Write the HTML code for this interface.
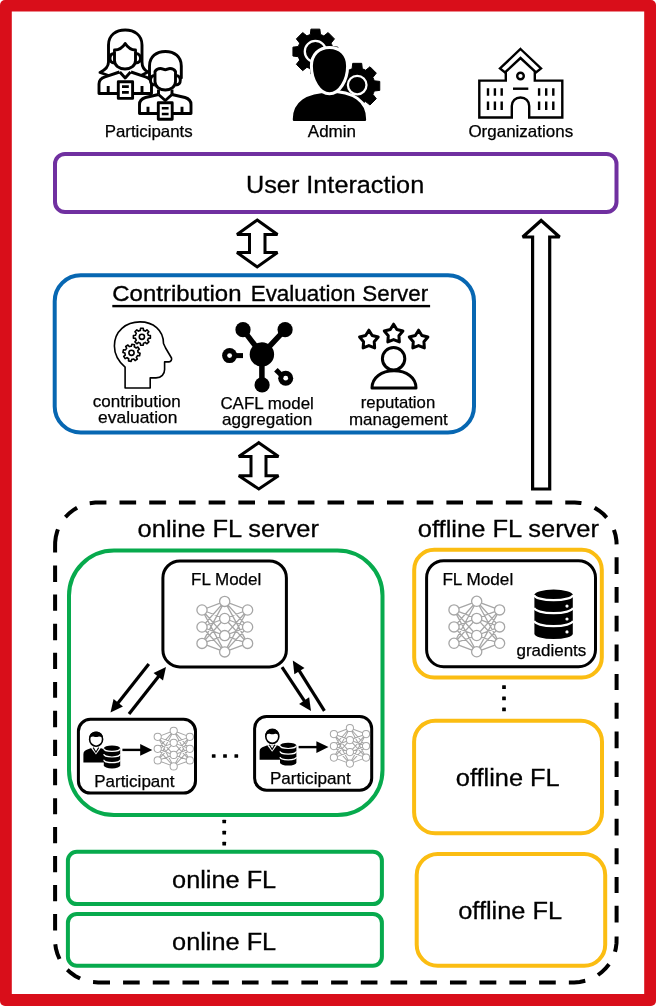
<!DOCTYPE html>
<html>
<head>
<meta charset="utf-8">
<style>
html,body{margin:0;padding:0;background:#fff;width:656px;height:1006px;overflow:hidden;}
svg{display:block;}
text{font-family:"Liberation Sans",sans-serif;fill:#000;stroke:#000;stroke-width:0.25px;}
text.b{stroke:#000;stroke-width:0.3px;}
text.t{stroke:#000;stroke-width:0.35px;}
svg{will-change:transform;}
</style>
</head>
<body>
<svg width="656" height="1006" viewBox="0 0 656 1006">
<rect x="0" y="0" width="656" height="1006" rx="5" fill="#D90E1A"/>
<rect x="11.8" y="11.5" width="632.4" height="982.5" fill="#fff"/>
<g fill="#fff" stroke="#000" stroke-width="2.9" stroke-linejoin="round"><path d="M108.5 62V45C108.5 35 116 30 125.2 30C134.4 30 142 35 142 45V62C142 67 145 70.5 148 72L140 76H110L100 72.5C105 70 108.5 67 108.5 62Z"/><path d="M99 93.5V84C99 80 101 78 105 76.8L119.5 72H131L145.5 76.8C149.5 78 151.5 80 151.5 84V93.5Z" stroke="none"/><path d="M119.5 72L105 76.8C101 78 99 80 99 84V93.5H151.5V84C151.5 80 149.5 78 145.5 76.8L131 72" fill="none"/><path d="M108.2 93.5V86M142 93.5V86" fill="none"/><path d="M119.8 72L125.2 78L130.6 72" fill="none"/><path d="M114.5 53.5C111 53.5 110 56 110 58.3C110 60.8 111 63 114.5 63"/><path d="M135.5 53.5C139 53.5 140.5 56 140.5 58.3C140.5 60.8 139 63 135.5 63"/><path d="M114.5 50V60.5C114.5 65.5 119 69 125 69C131 69 135.5 65.5 135.5 60.5V50C132 50 128 48 125.2 43.5C122.5 48 118.5 50 114.5 50Z"/><rect x="118.3" y="81.8" width="14.3" height="16.6"/><path d="M122 86.6H128.8M122 92.4H128.8" fill="none" stroke-width="2.6"/></g>
<g fill="#fff" stroke="#000" stroke-width="2.9" stroke-linejoin="round"><path d="M149.5 78V66C149.5 56.5 156.5 51.5 165.4 51.5C174.3 51.5 181.3 56.5 181.3 66V78Z"/><path d="M139.5 113.5V104.5C139.5 100.5 141.5 98.7 145.5 97.5L158.5 94.5H172L185 97.5C189 98.7 191 100.5 191 104.5V113.5Z" stroke="none"/><path d="M158.5 94.5L145.5 97.5C141.5 98.7 139.5 100.5 139.5 104.5V113.5H191V104.5C191 100.5 189 98.7 185 97.5L172 94.5" fill="none"/><path d="M148 113.5V106.8M182 113.5V106.8" fill="none"/><path d="M158.5 94.5L165.3 100.5L172 94.5" fill="none"/><path d="M158.5 94.5V89.5M172 94.5V89.5" fill="none"/><path d="M154.8 75.5C151.5 75.5 150.5 78 150.5 80.3C150.5 82.8 151.5 85 154.8 85"/><path d="M175.6 75.5C179 75.5 180.3 78 180.3 80.3C180.3 82.8 179 85 175.6 85"/><path d="M155 71.5V81.5C155 86.5 159.5 90 165.3 90C171.1 90 175.5 86.5 175.5 81.5V71.5C174 69 172 68.5 170 68.5C168 68.5 167 69.8 165.3 69.8C163.6 69.8 162.5 68.5 160.5 68.5C158.5 68.5 156.5 69 155 71.5Z"/><rect x="158.3" y="102.8" width="13.9" height="16.4"/><path d="M161.8 108.2H168.6M161.8 114H168.6" fill="none" stroke-width="2.6"/></g>
<text x="104.70" y="137.05" font-size="16.50" textLength="87.99" lengthAdjust="spacingAndGlyphs">Participants</text>
<g><path d="M310.30 34.55L310.93 29.14 L319.87 29.14 L320.50 34.55A17.80 17.80 0 0 1 323.85 35.93L328.12 32.56 L334.44 38.88 L331.07 43.15A17.80 17.80 0 0 1 332.45 46.50L337.86 47.13 L337.86 56.07 L332.45 56.70A17.80 17.80 0 0 1 331.07 60.05L334.44 64.32 L328.12 70.64 L323.85 67.27A17.80 17.80 0 0 1 320.50 68.65L319.87 74.06 L310.93 74.06 L310.30 68.65A17.80 17.80 0 0 1 306.95 67.27L302.68 70.64 L296.36 64.32 L299.73 60.05A17.80 17.80 0 0 1 298.35 56.70L292.94 56.07 L292.94 47.13 L298.35 46.50A17.80 17.80 0 0 1 299.73 43.15L296.36 38.88 L302.68 32.56 L306.95 35.93A17.80 17.80 0 0 1 310.30 34.55 Z" fill="#000" stroke="#000" stroke-width="1" stroke-linejoin="round"/><circle cx="315.4" cy="51.5" r="10.6" fill="none" stroke="#fff" stroke-width="2.3"/><path d="M352.10 68.85L352.71 63.34 L361.69 63.34 L362.30 68.85A17.80 17.80 0 0 1 365.65 70.23L369.98 66.78 L376.32 73.12 L372.87 77.45A17.80 17.80 0 0 1 374.25 80.80L379.76 81.41 L379.76 90.39 L374.25 91.00A17.80 17.80 0 0 1 372.87 94.35L376.32 98.68 L369.98 105.02 L365.65 101.57A17.80 17.80 0 0 1 362.30 102.95L361.69 108.46 L352.71 108.46 L352.10 102.95A17.80 17.80 0 0 1 348.75 101.57L344.42 105.02 L338.08 98.68 L341.53 94.35A17.80 17.80 0 0 1 340.15 91.00L334.64 90.39 L334.64 81.41 L340.15 80.80A17.80 17.80 0 0 1 341.53 77.45L338.08 73.12 L344.42 66.78 L348.75 70.23A17.80 17.80 0 0 1 352.10 68.85 Z" fill="#000" stroke="#000" stroke-width="1" stroke-linejoin="round"/><circle cx="357.2" cy="85.1" r="9.3" fill="none" stroke="#fff" stroke-width="2.3"/><path d="M291.3 119C291.3 101 306 91.2 329.5 91.2C353 91.2 367.6 101 367.6 119V120C367.6 121.5 366.5 122.5 365 122.5H294C292.5 122.5 291.3 121.5 291.3 120Z" fill="#000" stroke="#fff" stroke-width="3"/><path d="M329.5 47.4C340 47.4 347.6 54.6 347.6 66C347.6 80.5 339.3 93.8 329.5 93.8C319.7 93.8 311.4 80.5 311.4 66C311.4 54.6 319 47.4 329.5 47.4Z" fill="#000" stroke="#fff" stroke-width="3"/></g>
<text x="307.80" y="137.30" font-size="16.50" textLength="48.19" lengthAdjust="spacingAndGlyphs">Admin</text>
<g fill="none" stroke="#000" stroke-width="2.4" stroke-linejoin="miter"><path d="M505.8 71.4V80.6H479.3V117.5H511.8V106C511.8 101 515.5 97.5 520.5 97.5C525.5 97.5 529.2 101 529.2 106V117.5H562.3V80.6H534.8V71.4"/><path d="M520.5 49L541 68.5L536 72.5L520.5 58L505 72.5L500 68.5Z"/><circle cx="520.5" cy="76" r="3.3"/><path d="M513 88.7H528.3"/><path d="M488 88.2V95.8M494.9 88.2V95.8M501.7 88.2V95.8M539.1 88.2V95.8M546.2 88.2V95.8M553.3 88.2V95.8"/><path d="M488 101.6V109.9M494.9 101.6V109.9M501.7 101.6V109.9M539.1 101.6V109.9M546.2 101.6V109.9M553.3 101.6V109.9"/></g>
<text x="468.40" y="137.20" font-size="16.50" textLength="104.80" lengthAdjust="spacingAndGlyphs">Organizations</text>
<rect x="55" y="154" width="561.5" height="58" rx="10" fill="none" stroke="#7030A0" stroke-width="4"/>
<text x="246.00" y="193.20" font-size="24.50" textLength="178.19" lengthAdjust="spacingAndGlyphs" class="b">User Interaction</text>
<path d="M257.2 220L277.5 234.5H265V252.5H277.5L257.2 267L237 252.5H249.5V234.5H237Z" fill="#fff" stroke="#000" stroke-width="3" stroke-miterlimit="2"/>
<path d="M541.15 220.5L559.6 237H549.7V489H532.6V237H522.7Z" fill="#fff" stroke="#000" stroke-width="3.2" stroke-miterlimit="2"/>
<rect x="54.7" y="275.3" width="419.3" height="157.2" rx="26" fill="none" stroke="#0767B2" stroke-width="4"/>
<text x="112.30" y="301.20" font-size="22.60" textLength="129.20" lengthAdjust="spacingAndGlyphs" class="t">Contribution</text>
<text x="250.70" y="301.20" font-size="22.60" textLength="104.70" lengthAdjust="spacingAndGlyphs" class="t">Evaluation</text>
<text x="362.30" y="301.20" font-size="22.60" textLength="65.91" lengthAdjust="spacingAndGlyphs" class="t">Server</text>
<rect x="112.3" y="304.9" width="317.8" height="2.4" fill="#000"/>
<g fill="none" stroke="#000" stroke-width="1.6" stroke-linejoin="round"><path d="M125.1 388V367.2C118 361 114.4 354 114.4 346C114.4 331 126 321.9 140 321.9C153 321.9 163.5 330 163.5 343.5L165.6 348L171.5 358C172 359.5 171 361.9 169 361.9H164.6V369.4C164.6 374 161.5 377.9 156 377.9H150.2V388Z"/><path d="M140.36 330.38L140.55 328.31 L143.25 328.31 L143.44 330.38A6.60 6.60 0 0 1 145.35 331.17L146.95 329.84 L148.86 331.75 L147.53 333.35A6.60 6.60 0 0 1 148.32 335.26L150.39 335.45 L150.39 338.15 L148.32 338.34A6.60 6.60 0 0 1 147.53 340.25L148.86 341.85 L146.95 343.76 L145.35 342.43A6.60 6.60 0 0 1 143.44 343.22L143.25 345.29 L140.55 345.29 L140.36 343.22A6.60 6.60 0 0 1 138.45 342.43L136.85 343.76 L134.94 341.85 L136.27 340.25A6.60 6.60 0 0 1 135.48 338.34L133.41 338.15 L133.41 335.45 L135.48 335.26A6.60 6.60 0 0 1 136.27 333.35L134.94 331.75 L136.85 329.84 L138.45 331.17A6.60 6.60 0 0 1 140.36 330.38 Z"/><circle cx="141.9" cy="336.8" r="2.6"/><path d="M131.26 346.20L131.87 344.21 L134.51 344.74 L134.29 346.82A6.60 6.60 0 0 1 136.00 347.97L137.84 346.99 L139.32 349.23 L137.70 350.54A6.60 6.60 0 0 1 138.10 352.56L140.09 353.17 L139.56 355.81 L137.48 355.59A6.60 6.60 0 0 1 136.33 357.30L137.31 359.14 L135.07 360.62 L133.76 359.00A6.60 6.60 0 0 1 131.74 359.40L131.13 361.39 L128.49 360.86 L128.71 358.78A6.60 6.60 0 0 1 127.00 357.63L125.16 358.61 L123.68 356.37 L125.30 355.06A6.60 6.60 0 0 1 124.90 353.04L122.91 352.43 L123.44 349.79 L125.52 350.01A6.60 6.60 0 0 1 126.67 348.30L125.69 346.46 L127.93 344.98 L129.24 346.60A6.60 6.60 0 0 1 131.26 346.20 Z"/><circle cx="131.5" cy="352.8" r="2.6"/></g>
<text x="92.70" y="406.80" font-size="16.40" textLength="88.00" lengthAdjust="spacingAndGlyphs">contribution</text>
<text x="98.10" y="423.20" font-size="16.40" textLength="79.30" lengthAdjust="spacingAndGlyphs">evaluation</text>
<g fill="#000" stroke="none"><path d="M243 329.7L261.9 354.4L285.1 329.7M261.9 354.4V384.9" stroke="#000" stroke-width="5.5" fill="none"/><circle cx="261.9" cy="354.4" r="12.2"/><circle cx="243" cy="329.7" r="7.6"/><circle cx="285.1" cy="329.7" r="7.6"/><circle cx="262.1" cy="384.9" r="7.6"/><circle cx="229.6" cy="355.6" r="7.5"/><circle cx="229.6" cy="355.6" r="2.4" fill="#fff"/><rect x="233.9" y="353.1" width="9.1" height="5"/><circle cx="285.7" cy="378.2" r="7.5"/><circle cx="285.7" cy="378.2" r="2.4" fill="#fff"/><path d="M275.9 369.7L282 375.8" stroke="#000" stroke-width="5" fill="none"/></g>
<text x="220.40" y="409.30" font-size="16.40" textLength="93.49" lengthAdjust="spacingAndGlyphs">CAFL model</text>
<text x="222.10" y="424.60" font-size="16.40" textLength="90.20" lengthAdjust="spacingAndGlyphs">aggregation</text>
<g fill="none" stroke="#000" stroke-width="3" stroke-linejoin="round"><path d="M368.90 330.20 L372.19 335.47 L378.22 336.97 L374.23 341.73 L374.66 347.93 L368.90 345.60 L363.14 347.93 L363.57 341.73 L359.58 336.97 L365.61 335.47Z"/><path d="M393.60 324.20 L396.89 329.47 L402.92 330.97 L398.93 335.73 L399.36 341.93 L393.60 339.60 L387.84 341.93 L388.27 335.73 L384.28 330.97 L390.31 329.47Z"/><path d="M418.60 330.20 L421.89 335.47 L427.92 336.97 L423.93 341.73 L424.36 347.93 L418.60 345.60 L412.84 347.93 L413.27 341.73 L409.28 336.97 L415.31 335.47Z"/><circle cx="393.6" cy="358.7" r="11.2"/><path d="M372 388C372 377.5 381.5 370.8 394 370.8C406.5 370.8 416 377.5 416 388Z"/></g>
<text x="360.80" y="408.20" font-size="16.40" textLength="74.40" lengthAdjust="spacingAndGlyphs">reputation</text>
<text x="349.00" y="425.00" font-size="16.40" textLength="98.80" lengthAdjust="spacingAndGlyphs">management</text>
<path d="M258.8 442.7L278.5 456.6H266V475.7H278.5L258.8 489L238.8 475.7H251V456.6H238.8Z" fill="#fff" stroke="#000" stroke-width="3" stroke-miterlimit="2"/>
<path d="M89.71 503.21 95.29 502.49 102.85 502.40 106.42 502.40M119.50 502.40 131.38 502.40 136.14 502.40M149.22 502.40 161.10 502.40 165.86 502.40M178.94 502.40 190.82 502.40 195.58 502.40M208.65 502.40 220.54 502.40 225.30 502.40M238.37 502.40 250.26 502.40 255.01 502.40M268.09 502.40 279.98 502.40 284.73 502.40M297.81 502.40 309.70 502.40 314.45 502.40M327.53 502.40 339.42 502.40 344.17 502.40M357.25 502.40 369.13 502.40 373.89 502.40M386.97 502.40 398.85 502.40 403.61 502.40M416.68 502.40 428.57 502.40 433.33 502.40M446.40 502.40 458.29 502.40 463.05 502.40M476.12 502.40 488.01 502.40 492.76 502.40M505.84 502.40 517.73 502.40 522.48 502.40M535.56 502.40 547.45 502.40 552.20 502.40M565.28 502.40 574.73 502.41 580.33 502.92 581.44 503.10M616.60 557.27 616.60 567.17 616.60 574.10M616.60 586.97 616.60 596.87 616.60 602.81M616.60 615.68 616.60 625.58 616.60 631.52M616.60 644.39 616.60 654.29 616.60 661.22M616.60 674.09 616.60 683.99 616.60 689.93M616.60 702.80 616.60 712.70 616.60 718.64M616.60 731.51 616.60 741.41 616.60 748.34M616.60 761.21 616.60 771.11 616.60 777.05M616.60 789.92 616.60 799.82 616.60 805.76M616.60 818.63 616.60 828.53 616.60 835.46M616.60 848.33 616.60 858.23 616.60 864.17M616.60 877.04 616.60 886.94 616.60 892.88M616.60 905.75 616.60 915.65 616.60 922.58M109.99 982.40 98.10 982.40 93.05 982.11M139.71 982.40 127.82 982.40 123.06 982.40M169.43 982.40 157.54 982.40 152.78 982.40M199.14 982.40 187.26 982.40 182.50 982.40M228.86 982.40 216.98 982.40 212.22 982.40M258.58 982.40 246.69 982.40 241.94 982.40M288.30 982.40 276.41 982.40 271.66 982.40M318.02 982.40 306.13 982.40 301.38 982.40M347.74 982.40 335.85 982.40 331.10 982.40M377.46 982.40 365.57 982.40 360.81 982.40M407.18 982.40 395.29 982.40 390.53 982.40M436.89 982.40 425.01 982.40 420.25 982.40M466.61 982.40 454.73 982.40 449.97 982.40M496.33 982.40 484.44 982.40 479.69 982.40M526.05 982.40 514.16 982.40 509.41 982.40M555.77 982.40 543.88 982.40 539.13 982.40M585.27 980.82 579.77 981.97 574.16 982.40 568.85 982.40M55.10 581.94 55.10 576.50 55.10 571.06 55.10 565.62M55.10 610.77 55.10 605.33 55.10 599.89 55.10 594.45M55.10 640.14 55.10 634.70 55.10 629.26 55.10 623.82M55.10 668.98 55.10 663.54 55.10 658.10 55.10 652.66M55.10 697.81 55.10 692.37 55.10 686.93 55.10 682.03M55.10 727.18 55.10 721.74 55.10 716.30 55.10 710.86M55.10 756.02 55.10 750.58 55.10 745.14 55.10 739.70M55.10 785.19 55.10 780.73 55.10 776.27 55.10 771.81 55.10 768.69M55.10 814.18 55.10 809.72 55.10 805.26 55.10 800.80 55.10 798.13M55.10 843.17 55.10 838.71 55.10 834.25 55.10 829.79 55.10 827.12M55.10 872.16 55.10 867.70 55.10 863.24 55.10 858.78 55.10 856.11M55.10 901.15 55.10 896.69 55.10 892.23 55.10 887.77 55.10 885.10M55.10 930.59 55.10 926.13 55.10 921.67 55.10 917.21 55.10 914.09M594.61 507.76 599.33 510.75 603.60 514.32 606.66 517.54M613.94 529.86 615.54 535.13 616.42 540.56 616.60 544.40M616.60 936.44 616.51 943.15 615.77 948.59 614.99 951.80M609.04 964.19 605.56 968.50 601.53 972.34 597.96 975.01M59.53 958.98 57.38 953.90 55.93 948.59 55.28 944.24M80.10 978.54 75.15 975.92 70.60 972.69 67.30 969.71M55.10 552.56 55.10 547.12 55.16 542.20 55.82 536.75 57.20 531.42 57.96 529.35M65.40 517.12 69.33 513.19 73.74 509.79 77.09 507.76" fill="none" stroke="#000" stroke-width="4"/>
<text x="137.60" y="536.50" font-size="24.50" textLength="181.40" lengthAdjust="spacingAndGlyphs" class="b">online FL server</text>
<text x="417.80" y="536.70" font-size="24.50" textLength="181.21" lengthAdjust="spacingAndGlyphs" class="b">offline FL server</text>
<rect x="69" y="550.6" width="313.5" height="264.4" rx="45" fill="none" stroke="#07AA4D" stroke-width="4"/>
<rect x="162.9" y="560.9" width="123.5" height="106" rx="17" fill="#fff" stroke="#000" stroke-width="3"/>
<text x="191.10" y="584.50" font-size="16.40" textLength="70.21" lengthAdjust="spacingAndGlyphs">FL Model</text>
<g transform="translate(202.00 601.40) scale(1.000)" stroke="#a6a6a6" stroke-width="1.30"><path fill="none" d="M0.0 8.6L22.7 0.0M0.0 8.6L22.7 17.1M0.0 8.6L22.7 34.2M0.0 8.6L22.7 50.5M0.0 25.6L22.7 0.0M0.0 25.6L22.7 17.1M0.0 25.6L22.7 34.2M0.0 25.6L22.7 50.5M0.0 42.0L22.7 0.0M0.0 42.0L22.7 17.1M0.0 42.0L22.7 34.2M0.0 42.0L22.7 50.5M45.6 8.6L22.7 0.0M45.6 8.6L22.7 17.1M45.6 8.6L22.7 34.2M45.6 8.6L22.7 50.5M45.6 25.6L22.7 0.0M45.6 25.6L22.7 17.1M45.6 25.6L22.7 34.2M45.6 25.6L22.7 50.5M45.6 42.0L22.7 0.0M45.6 42.0L22.7 17.1M45.6 42.0L22.7 34.2M45.6 42.0L22.7 50.5"/><circle cx="0.0" cy="8.6" r="5.1" fill="#fff"/><circle cx="0.0" cy="25.6" r="5.1" fill="#fff"/><circle cx="0.0" cy="42.0" r="5.1" fill="#fff"/><circle cx="22.7" cy="0.0" r="5.1" fill="#fff"/><circle cx="22.7" cy="17.1" r="5.1" fill="#fff"/><circle cx="22.7" cy="34.2" r="5.1" fill="#fff"/><circle cx="22.7" cy="50.5" r="5.1" fill="#fff"/><circle cx="45.6" cy="8.6" r="5.1" fill="#fff"/><circle cx="45.6" cy="25.6" r="5.1" fill="#fff"/><circle cx="45.6" cy="42.0" r="5.1" fill="#fff"/></g>
<path d="M148.80 664.10L117.02 704.27" stroke="#000" stroke-width="3.2"/><path d="M110.50 712.50L113.55 698.97L122.96 706.42Z" fill="#000"/>
<path d="M129.00 714.10L159.51 675.26" stroke="#000" stroke-width="3.2"/><path d="M166.00 667.00L163.00 680.54L153.56 673.12Z" fill="#000"/>
<path d="M282.00 667.10L305.21 702.24" stroke="#000" stroke-width="3.2"/><path d="M311.00 711.00L299.10 703.88L309.12 697.26Z" fill="#000"/>
<path d="M324.40 710.80L298.39 669.39" stroke="#000" stroke-width="3.2"/><path d="M292.80 660.50L304.53 667.89L294.37 674.28Z" fill="#000"/>
<rect x="78.4" y="719.3" width="117.1" height="73.8" rx="12" fill="#fff" stroke="#000" stroke-width="3"/>
<g transform="translate(0.00 0.00)"><path d="M83.4 762.6V754.2C83.4 751.2 85.3 749.9 88 749.2L91.3 748.1H100.6L103.2 749C104.4 749.4 105 750.2 105 751.4V762.6Z" fill="#000"/><path d="M91 748.1H100.9L95.95 754.6Z" fill="#fff"/><path d="M93.2 747.6L95.95 752.2L98.7 747.6" stroke="#000" stroke-width="1.1" fill="none"/><ellipse cx="96.1" cy="739.2" rx="6.5" ry="7" fill="#fff" stroke="#000" stroke-width="1.6"/><path d="M89.4 738.8C88.8 733.8 92 731.7 96.1 731.7C100.2 731.7 103.4 733.8 102.8 738.8C101.8 736.6 99.8 736.2 98.2 736.7C96.8 737.1 95.4 737.1 94 736.7C92.4 736.2 90.4 736.6 89.4 738.8Z" fill="#000"/><path d="M103.80 748.40A8.20 2.90 0 0 1 120.20 748.40V765.50A8.20 2.90 0 0 1 103.80 765.50Z" fill="#000"/><path d="M103.80 748.40A8.20 2.90 0 0 0 120.20 748.40" fill="none" stroke="#fff" stroke-width="1.20"/><path d="M103.80 754.10A8.20 2.90 0 0 0 120.20 754.10" fill="none" stroke="#fff" stroke-width="1.20"/><path d="M103.80 759.80A8.20 2.90 0 0 0 120.20 759.80" fill="none" stroke="#fff" stroke-width="1.20"/><path d="M122.4 749.9H142" stroke="#000" stroke-width="2.4"/><path d="M140.2 744L152.3 749.9L140.2 755.8Z" fill="#000"/><g transform="translate(157.70 730.80) scale(0.705)" stroke="#a6a6a6" stroke-width="1.42"><path fill="none" d="M0.0 8.6L22.7 0.0M0.0 8.6L22.7 17.1M0.0 8.6L22.7 34.2M0.0 8.6L22.7 50.5M0.0 25.6L22.7 0.0M0.0 25.6L22.7 17.1M0.0 25.6L22.7 34.2M0.0 25.6L22.7 50.5M0.0 42.0L22.7 0.0M0.0 42.0L22.7 17.1M0.0 42.0L22.7 34.2M0.0 42.0L22.7 50.5M45.6 8.6L22.7 0.0M45.6 8.6L22.7 17.1M45.6 8.6L22.7 34.2M45.6 8.6L22.7 50.5M45.6 25.6L22.7 0.0M45.6 25.6L22.7 17.1M45.6 25.6L22.7 34.2M45.6 25.6L22.7 50.5M45.6 42.0L22.7 0.0M45.6 42.0L22.7 17.1M45.6 42.0L22.7 34.2M45.6 42.0L22.7 50.5"/><circle cx="0.0" cy="8.6" r="5.1" fill="#fff"/><circle cx="0.0" cy="25.6" r="5.1" fill="#fff"/><circle cx="0.0" cy="42.0" r="5.1" fill="#fff"/><circle cx="22.7" cy="0.0" r="5.1" fill="#fff"/><circle cx="22.7" cy="17.1" r="5.1" fill="#fff"/><circle cx="22.7" cy="34.2" r="5.1" fill="#fff"/><circle cx="22.7" cy="50.5" r="5.1" fill="#fff"/><circle cx="45.6" cy="8.6" r="5.1" fill="#fff"/><circle cx="45.6" cy="25.6" r="5.1" fill="#fff"/><circle cx="45.6" cy="42.0" r="5.1" fill="#fff"/></g></g>
<text x="94.20" y="786.50" font-size="16.40" textLength="80.29" lengthAdjust="spacingAndGlyphs">Participant</text>
<rect x="254.6" y="716.5" width="117.1" height="73.7" rx="12" fill="#fff" stroke="#000" stroke-width="3"/>
<g transform="translate(176.20 -2.80)"><path d="M83.4 762.6V754.2C83.4 751.2 85.3 749.9 88 749.2L91.3 748.1H100.6L103.2 749C104.4 749.4 105 750.2 105 751.4V762.6Z" fill="#000"/><path d="M91 748.1H100.9L95.95 754.6Z" fill="#fff"/><path d="M93.2 747.6L95.95 752.2L98.7 747.6" stroke="#000" stroke-width="1.1" fill="none"/><ellipse cx="96.1" cy="739.2" rx="6.5" ry="7" fill="#fff" stroke="#000" stroke-width="1.6"/><path d="M89.4 738.8C88.8 733.8 92 731.7 96.1 731.7C100.2 731.7 103.4 733.8 102.8 738.8C101.8 736.6 99.8 736.2 98.2 736.7C96.8 737.1 95.4 737.1 94 736.7C92.4 736.2 90.4 736.6 89.4 738.8Z" fill="#000"/><path d="M103.80 748.40A8.20 2.90 0 0 1 120.20 748.40V765.50A8.20 2.90 0 0 1 103.80 765.50Z" fill="#000"/><path d="M103.80 748.40A8.20 2.90 0 0 0 120.20 748.40" fill="none" stroke="#fff" stroke-width="1.20"/><path d="M103.80 754.10A8.20 2.90 0 0 0 120.20 754.10" fill="none" stroke="#fff" stroke-width="1.20"/><path d="M103.80 759.80A8.20 2.90 0 0 0 120.20 759.80" fill="none" stroke="#fff" stroke-width="1.20"/><path d="M122.4 749.9H142" stroke="#000" stroke-width="2.4"/><path d="M140.2 744L152.3 749.9L140.2 755.8Z" fill="#000"/><g transform="translate(157.70 730.80) scale(0.705)" stroke="#a6a6a6" stroke-width="1.42"><path fill="none" d="M0.0 8.6L22.7 0.0M0.0 8.6L22.7 17.1M0.0 8.6L22.7 34.2M0.0 8.6L22.7 50.5M0.0 25.6L22.7 0.0M0.0 25.6L22.7 17.1M0.0 25.6L22.7 34.2M0.0 25.6L22.7 50.5M0.0 42.0L22.7 0.0M0.0 42.0L22.7 17.1M0.0 42.0L22.7 34.2M0.0 42.0L22.7 50.5M45.6 8.6L22.7 0.0M45.6 8.6L22.7 17.1M45.6 8.6L22.7 34.2M45.6 8.6L22.7 50.5M45.6 25.6L22.7 0.0M45.6 25.6L22.7 17.1M45.6 25.6L22.7 34.2M45.6 25.6L22.7 50.5M45.6 42.0L22.7 0.0M45.6 42.0L22.7 17.1M45.6 42.0L22.7 34.2M45.6 42.0L22.7 50.5"/><circle cx="0.0" cy="8.6" r="5.1" fill="#fff"/><circle cx="0.0" cy="25.6" r="5.1" fill="#fff"/><circle cx="0.0" cy="42.0" r="5.1" fill="#fff"/><circle cx="22.7" cy="0.0" r="5.1" fill="#fff"/><circle cx="22.7" cy="17.1" r="5.1" fill="#fff"/><circle cx="22.7" cy="34.2" r="5.1" fill="#fff"/><circle cx="22.7" cy="50.5" r="5.1" fill="#fff"/><circle cx="45.6" cy="8.6" r="5.1" fill="#fff"/><circle cx="45.6" cy="25.6" r="5.1" fill="#fff"/><circle cx="45.6" cy="42.0" r="5.1" fill="#fff"/></g></g>
<text x="269.90" y="783.60" font-size="16.40" textLength="80.89" lengthAdjust="spacingAndGlyphs">Participant</text>
<rect x="211.85" y="754.15" width="3.7" height="3.7" rx="0.5"/><rect x="223.15" y="754.15" width="3.7" height="3.7" rx="0.5"/><rect x="234.45" y="754.15" width="3.7" height="3.7" rx="0.5"/>
<rect x="222.35" y="819.65" width="3.7" height="3.7" rx="0.5"/><rect x="222.35" y="830.85" width="3.7" height="3.7" rx="0.5"/><rect x="222.35" y="841.85" width="3.7" height="3.7" rx="0.5"/>
<rect x="67.9" y="851.7" width="314" height="52.4" rx="9" fill="none" stroke="#07AA4D" stroke-width="4"/>
<text x="172.10" y="888.10" font-size="24.40" textLength="104.09" lengthAdjust="spacingAndGlyphs" class="b">online FL</text>
<rect x="67.9" y="913.9" width="314" height="51.8" rx="9" fill="none" stroke="#07AA4D" stroke-width="4"/>
<text x="172.10" y="950.10" font-size="24.40" textLength="104.09" lengthAdjust="spacingAndGlyphs" class="b">online FL</text>
<rect x="414.2" y="549.8" width="187.6" height="127.6" rx="20" fill="none" stroke="#FBBD12" stroke-width="4"/>
<rect x="426.6" y="560.7" width="168.9" height="106" rx="17" fill="none" stroke="#000" stroke-width="3"/>
<text x="442.40" y="584.50" font-size="16.40" textLength="70.81" lengthAdjust="spacingAndGlyphs">FL Model</text>
<g transform="translate(454.00 601.30) scale(1.000)" stroke="#a6a6a6" stroke-width="1.30"><path fill="none" d="M0.0 8.6L22.7 0.0M0.0 8.6L22.7 17.1M0.0 8.6L22.7 34.2M0.0 8.6L22.7 50.5M0.0 25.6L22.7 0.0M0.0 25.6L22.7 17.1M0.0 25.6L22.7 34.2M0.0 25.6L22.7 50.5M0.0 42.0L22.7 0.0M0.0 42.0L22.7 17.1M0.0 42.0L22.7 34.2M0.0 42.0L22.7 50.5M45.6 8.6L22.7 0.0M45.6 8.6L22.7 17.1M45.6 8.6L22.7 34.2M45.6 8.6L22.7 50.5M45.6 25.6L22.7 0.0M45.6 25.6L22.7 17.1M45.6 25.6L22.7 34.2M45.6 25.6L22.7 50.5M45.6 42.0L22.7 0.0M45.6 42.0L22.7 17.1M45.6 42.0L22.7 34.2M45.6 42.0L22.7 50.5"/><circle cx="0.0" cy="8.6" r="5.1" fill="#fff"/><circle cx="0.0" cy="25.6" r="5.1" fill="#fff"/><circle cx="0.0" cy="42.0" r="5.1" fill="#fff"/><circle cx="22.7" cy="0.0" r="5.1" fill="#fff"/><circle cx="22.7" cy="17.1" r="5.1" fill="#fff"/><circle cx="22.7" cy="34.2" r="5.1" fill="#fff"/><circle cx="22.7" cy="50.5" r="5.1" fill="#fff"/><circle cx="45.6" cy="8.6" r="5.1" fill="#fff"/><circle cx="45.6" cy="25.6" r="5.1" fill="#fff"/><circle cx="45.6" cy="42.0" r="5.1" fill="#fff"/></g>
<path d="M534.40 594.90A19.20 5.30 0 0 1 572.80 594.90V633.75A19.20 5.30 0 0 1 534.40 633.75Z" fill="#000"/><path d="M534.40 594.90A19.20 5.30 0 0 0 572.80 594.90" fill="none" stroke="#fff" stroke-width="2.30"/><circle cx="567.00" cy="606.03" r="1.60" fill="#fff"/><path d="M534.40 607.85A19.20 5.30 0 0 0 572.80 607.85" fill="none" stroke="#fff" stroke-width="2.30"/><circle cx="567.00" cy="618.98" r="1.60" fill="#fff"/><path d="M534.40 620.80A19.20 5.30 0 0 0 572.80 620.80" fill="none" stroke="#fff" stroke-width="2.30"/><circle cx="567.00" cy="631.93" r="1.60" fill="#fff"/>
<text x="516.50" y="655.50" font-size="16.40" textLength="69.80" lengthAdjust="spacingAndGlyphs">gradients</text>
<rect x="502.15" y="685.35" width="3.7" height="3.7" rx="0.5"/><rect x="502.15" y="696.55" width="3.7" height="3.7" rx="0.5"/><rect x="502.15" y="707.55" width="3.7" height="3.7" rx="0.5"/>
<rect x="414.1" y="720.7" width="187.9" height="112.5" rx="21" fill="none" stroke="#FBBD12" stroke-width="4"/>
<text x="455.80" y="786.10" font-size="24.40" textLength="103.91" lengthAdjust="spacingAndGlyphs" class="b">offline FL</text>
<rect x="416.7" y="853.9" width="188.5" height="111.9" rx="21" fill="none" stroke="#FBBD12" stroke-width="4"/>
<text x="458.20" y="919.00" font-size="24.40" textLength="103.91" lengthAdjust="spacingAndGlyphs" class="b">offline FL</text>
</svg>
</body>
</html>
